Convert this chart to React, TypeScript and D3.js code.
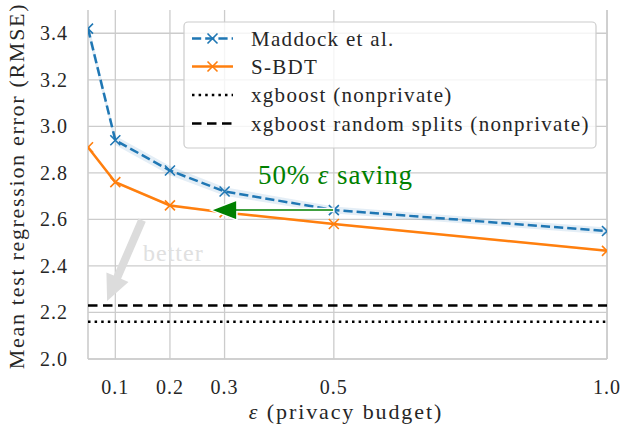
import React from "react";
import * as d3 from "d3";

const epsilons = [0.05, 0.1, 0.2, 0.3, 0.5, 1.0];
const maddock = [3.42, 2.94, 2.81, 2.72, 2.64, 2.55];
const maddockCI = [0.03, 0.02, 0.02, 0.018, 0.015, 0.015];
const sbdt = [2.91, 2.76, 2.66, 2.63, 2.58, 2.465];
const sbdtCI = [0.008, 0.006, 0.006, 0.005, 0.005, 0.005];
const xgboost = 2.16;
const xgboostRandom = 2.23;
const xTicks = [0.1, 0.2, 0.3, 0.5, 1.0];
const yTicks = [2.0, 2.2, 2.4, 2.6, 2.8, 3.0, 3.2, 3.4];
const legendLabels = [
  "Maddock et al.",
  "S-BDT",
  "xgboost (nonprivate)",
  "xgboost random splits (nonprivate)",
];
const savingArrow = { from: [0.5, 2.64], to: [0.275, 2.64] };
const betterArrow = { from: [0.149, 2.597], to: [0.085, 2.249] };

const W = 623;
const H = 432;
const L = 88, R = 607, T = 10, B = 359;
const FONT = "'Liberation Serif', 'Times New Roman', serif";
const BLUE = "#1f77b4";
const ORANGE = "#ff7f0e";
const GRID = "#cccccc";
const INK = "#262626";

function Cross({ x, y, color, s = 5 }: { x: number; y: number; color: string; s?: number }) {
  return (
    <path
      d={`M${x - s},${y - s}L${x + s},${y + s}M${x - s},${y + s}L${x + s},${y - s}`}
      stroke={color}
      strokeWidth={1.6}
      fill="none"
    />
  );
}

function arrowPath(x1: number, y1: number, x2: number, y2: number, lineW: number, headL: number, headW: number) {
  const dx = x2 - x1, dy = y2 - y1;
  const len = Math.hypot(dx, dy);
  const ux = dx / len, uy = dy / len;
  const px = -uy, py = ux;
  const bx = x2 - ux * headL, by = y2 - uy * headL;
  const pts = [
    [x1 + px * lineW / 2, y1 + py * lineW / 2],
    [bx + px * lineW / 2, by + py * lineW / 2],
    [bx + px * headW / 2, by + py * headW / 2],
    [x2, y2],
    [bx - px * headW / 2, by - py * headW / 2],
    [bx - px * lineW / 2, by - py * lineW / 2],
    [x1 - px * lineW / 2, y1 - py * lineW / 2],
  ];
  return "M" + pts.map((p) => p.join(",")).join("L") + "Z";
}

export default function App() {
  const x = d3.scaleLinear().domain([0.05, 1.0]).range([L, R]);
  const y = d3.scaleLinear().domain([2.0, 3.5]).range([B, T]);

  const line = d3
    .line<number>()
    .x((_, i) => x(epsilons[i]))
    .y((d) => y(d));
  const band = (vals: number[], ci: number[]) =>
    d3
      .area<number>()
      .x((_, i) => x(epsilons[i]))
      .y0((d, i) => y(d - ci[i]))
      .y1((d, i) => y(d + ci[i]))(vals) as string;

  const sa = savingArrow;
  const ba = betterArrow;

  const legX = 184, legY = 22, legW = 412, legH = 126;
  const rowY = [38.5, 66.5, 95, 123.5];
  const hx1 = 192, hx2 = 233, tx = 251;

  return (
    <svg width={W} height={H} style={{ position: "absolute", left: 0, top: 0, background: "#fff" }}>
      <defs>
        <clipPath id="plot">
          <rect x={L} y={T} width={R - L} height={B - T} />
        </clipPath>
      </defs>
      <rect x={0} y={0} width={W} height={H} fill="#fff" />
      {/* grid */}
      {yTicks.map((t) => (
        <line key={"gy" + t} x1={L} x2={R} y1={y(t)} y2={y(t)} stroke={GRID} strokeWidth={1.3} />
      ))}
      {xTicks.map((t) => (
        <line key={"gx" + t} x1={x(t)} x2={x(t)} y1={T} y2={B} stroke={GRID} strokeWidth={1.3} />
      ))}
      {/* spines */}
      <line x1={L} x2={L} y1={T} y2={B} stroke={GRID} strokeWidth={1.6} />
      <line x1={L} x2={R} y1={B} y2={B} stroke={GRID} strokeWidth={1.6} />
      <line x1={R} x2={R} y1={T} y2={B} stroke={GRID} strokeWidth={1.6} />

      <g clipPath="url(#plot)">
        <path d={band(maddock, maddockCI)} fill={BLUE} opacity={0.12} />
        <path d={band(sbdt, sbdtCI)} fill={ORANGE} opacity={0.15} />
        <line x1={L} x2={R} y1={y(xgboostRandom)} y2={y(xgboostRandom)} stroke="#000" strokeWidth={2.5} strokeDasharray="9.5,5.5" />
        <line x1={L} x2={R} y1={y(xgboost)} y2={y(xgboost)} stroke="#000" strokeWidth={2.5} strokeDasharray="2.5,4.1" />
        <path d={line(sbdt) as string} fill="none" stroke={ORANGE} strokeWidth={2.5} />
        <path d={line(maddock) as string} fill="none" stroke={BLUE} strokeWidth={2.5} strokeDasharray="9.2,4" />
        {epsilons.map((e, i) => (
          <Cross key={"ms" + i} x={x(e)} y={y(sbdt[i])} color={ORANGE} />
        ))}
        {epsilons.map((e, i) => (
          <Cross key={"mm" + i} x={x(e)} y={y(maddock[i])} color={BLUE} />
        ))}
      </g>

      {/* annotations */}
      <path
        d={arrowPath(x(sa.from[0]), y(sa.from[1]), x(sa.to[0]), y(sa.to[1]), 3, 26, 20)}
        fill="#008000"
        stroke="#fff"
        strokeWidth={1.5}
        strokeLinejoin="miter"
      />
      <text x={258} y={184} fontFamily={FONT} fontSize={27} letterSpacing={0.9} fill="#008000">
        50% <tspan fontStyle="italic">ε</tspan> saving
      </text>
      <path
        d={arrowPath(x(ba.from[0]), y(ba.from[1]), x(ba.to[0]), y(ba.to[1]), 8, 26, 24)}
        fill="#dcdcdc"
      />
      <text x={143} y={261} fontFamily={FONT} fontSize={24} letterSpacing={1} fill="#e0e0e0">
        better
      </text>

      {/* ticks */}
      {yTicks.map((t) => (
        <text key={"ty" + t} x={68} y={y(t)} dy="0.34em" textAnchor="end" fontFamily={FONT} fontSize={20} letterSpacing={1} fill={INK}>
          {t.toFixed(1)}
        </text>
      ))}
      {xTicks.map((t) => (
        <text key={"tx" + t} x={x(t)} y={394} textAnchor="middle" fontFamily={FONT} fontSize={20} letterSpacing={1} fill={INK}>
          {t.toFixed(1)}
        </text>
      ))}
      <text x={346} y={419} textAnchor="middle" fontFamily={FONT} fontSize={22} letterSpacing={1.9} fill={INK}>
        <tspan fontStyle="italic">ε</tspan> (privacy budget)
      </text>
      <text
        transform={`translate(24,186) rotate(-90)`}
        textAnchor="middle"
        fontFamily={FONT}
        fontSize={22}
        letterSpacing={1.7}
        fill={INK}
      >
        Mean test regression error (RMSE)
      </text>

      {/* legend */}
      <rect x={legX} y={legY} width={legW} height={legH} rx={4} fill="#fff" fillOpacity={0.8} stroke={GRID} strokeWidth={1.2} />
      <line x1={hx1} x2={hx2} y1={rowY[0]} y2={rowY[0]} stroke={BLUE} strokeWidth={2.5} strokeDasharray="9.2,4" />
      <Cross x={(hx1 + hx2) / 2} y={rowY[0]} color={BLUE} />
      <line x1={hx1} x2={hx2} y1={rowY[1]} y2={rowY[1]} stroke={ORANGE} strokeWidth={2.5} />
      <Cross x={(hx1 + hx2) / 2} y={rowY[1]} color={ORANGE} />
      <line x1={hx1} x2={hx2} y1={rowY[2]} y2={rowY[2]} stroke="#000" strokeWidth={2.5} strokeDasharray="2.5,4.1" />
      <line x1={hx1} x2={hx2} y1={rowY[3]} y2={rowY[3]} stroke="#000" strokeWidth={2.5} strokeDasharray="9.5,5.5" />
      {legendLabels.map((lab, i) => (
        <text key={lab} x={tx} y={rowY[i]} dy="0.34em" fontFamily={FONT} fontSize={21} letterSpacing={1.3} fill={INK}>
          {lab}
        </text>
      ))}
    </svg>
  );
}
